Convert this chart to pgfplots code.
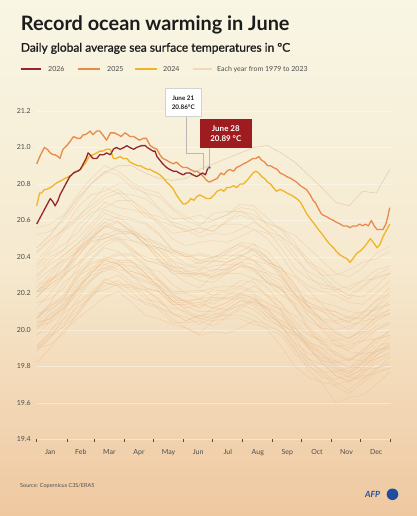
\documentclass[border=0pt]{standalone}
\usepackage{fontspec}
\setmainfont{Lato}
\newfontfamily\subfont{Lato}[FakeBold=1]
\usepackage{pgfplots}
\usepackage{pgfplotstable}
\pgfplotsset{compat=1.18}
\definecolor{bgtop}{HTML}{F8F6E4}
\definecolor{bgmid}{HTML}{F6EAD0}
\definecolor{bgbot}{HTML}{EFC8A0}
\definecolor{c26}{HTML}{93272B}
\definecolor{c26box}{HTML}{9E1B20}
\definecolor{c25}{HTML}{E88A4B}
\definecolor{c24}{HTML}{F0B429}
\definecolor{cbg}{HTML}{E9B98A}
\definecolor{c23}{HTML}{E2CBAE}
\definecolor{cbgleg}{HTML}{F2D9BC}
\definecolor{txt}{HTML}{1C1C1C}
\definecolor{lab}{HTML}{4D4D4D}
\definecolor{afpblue}{HTML}{1F4E9E}

\pgfplotstableread{
year 0 14 28 42 56 70 84 98 112 126 140 154 168 182 196 210 224 238 252 266 280 294 308 322 336 350 364
1979 19.90 19.97 20.02 20.14 20.20 20.22 20.25 20.25 20.19 20.11 20.04 20.04 20.05 20.02 20.07 20.11 20.08 20.02 19.99 19.90 19.78 19.71 19.70 19.72 19.75 19.76 19.79
1980 19.98 20.00 20.06 20.17 20.27 20.34 20.32 20.26 20.23 20.21 20.14 20.09 20.06 20.08 20.11 20.16 20.15 20.07 20.01 19.97 19.90 19.82 19.75 19.72 19.77 19.84 19.88
1981 19.88 19.96 20.06 20.12 20.18 20.24 20.27 20.21 20.14 20.12 20.09 20.07 20.03 20.07 20.08 20.08 20.05 20.03 19.99 19.89 19.82 19.78 19.71 19.67 19.73 19.79 19.81
1982 19.89 19.96 20.02 20.08 20.18 20.26 20.24 20.23 20.22 20.16 20.09 20.05 20.08 20.09 20.08 20.12 20.16 20.12 20.03 19.93 19.87 19.85 19.83 19.80 19.79 19.86 19.93
1983 20.06 20.13 20.17 20.29 20.34 20.36 20.38 20.38 20.31 20.23 20.15 20.15 20.15 20.12 20.15 20.19 20.18 20.09 20.03 19.98 19.91 19.82 19.75 19.71 19.76 19.82 19.86
1984 19.90 19.92 19.98 20.09 20.19 20.26 20.24 20.18 20.15 20.13 20.06 20.01 19.98 20.05 20.06 20.06 20.03 20.01 19.97 19.87 19.80 19.76 19.69 19.65 19.71 19.77 19.79
1985 19.82 19.90 20.00 20.06 20.12 20.18 20.21 20.15 20.08 20.06 20.03 20.01 19.97 19.99 19.98 20.01 20.05 20.00 19.91 19.80 19.74 19.71 19.60 19.63 19.64 19.70 19.77
1986 19.91 19.98 20.04 20.10 20.19 20.28 20.25 20.24 20.22 20.17 20.09 20.05 20.08 20.06 20.11 20.16 20.13 20.07 20.05 19.96 19.84 19.77 19.77 19.79 19.82 19.84 19.87
1987 20.00 20.07 20.12 20.24 20.30 20.32 20.35 20.35 20.29 20.21 20.14 20.14 20.15 20.17 20.18 20.18 20.15 20.13 20.09 19.99 19.92 19.88 19.81 19.77 19.83 19.89 19.91
1988 20.04 20.06 20.11 20.22 20.31 20.38 20.36 20.29 20.26 20.24 20.16 20.11 20.07 20.12 20.11 20.13 20.17 20.11 20.02 19.91 19.84 19.81 19.79 19.74 19.73 19.78 19.85
1989 19.91 19.99 20.09 20.15 20.21 20.27 20.30 20.24 20.17 20.15 20.12 20.10 20.06 20.05 20.10 20.14 20.11 20.05 20.02 19.93 19.81 19.74 19.73 19.75 19.78 19.79 19.82
1990 20.01 20.08 20.13 20.19 20.28 20.36 20.33 20.32 20.30 20.24 20.16 20.12 20.14 20.12 20.15 20.20 20.19 20.11 20.05 20.01 19.94 19.86 19.79 19.76 19.81 19.88 19.92
1991 20.02 20.09 20.14 20.26 20.32 20.34 20.37 20.37 20.31 20.23 20.16 20.16 20.17 20.14 20.19 20.23 20.20 20.14 20.11 20.02 19.90 19.83 19.82 19.84 19.87 19.88 19.91
1992 20.02 20.04 20.10 20.21 20.31 20.38 20.36 20.30 20.27 20.25 20.18 20.13 20.10 20.10 20.13 20.18 20.17 20.09 20.03 19.99 19.92 19.84 19.77 19.74 19.79 19.86 19.90
1993 19.97 20.05 20.15 20.21 20.27 20.33 20.36 20.30 20.23 20.21 20.18 20.16 20.12 20.16 20.17 20.17 20.14 20.12 20.08 19.98 19.91 19.87 19.80 19.76 19.82 19.88 19.90
1994 20.04 20.11 20.16 20.22 20.31 20.39 20.36 20.35 20.33 20.27 20.19 20.15 20.17 20.18 20.17 20.20 20.24 20.19 20.10 19.99 19.93 19.90 19.88 19.84 19.83 19.89 19.96
1995 20.07 20.14 20.19 20.31 20.37 20.39 20.42 20.42 20.36 20.28 20.21 20.21 20.22 20.19 20.22 20.27 20.26 20.18 20.12 20.08 20.01 19.93 19.86 19.83 19.88 19.95 19.99
1996 20.04 20.06 20.12 20.23 20.33 20.40 20.38 20.32 20.29 20.27 20.20 20.15 20.12 20.19 20.20 20.20 20.17 20.15 20.11 20.01 19.94 19.90 19.83 19.79 19.85 19.91 19.93
1997 20.06 20.15 20.26 20.32 20.39 20.46 20.50 20.44 20.38 20.37 20.35 20.33 20.30 20.33 20.33 20.37 20.41 20.37 20.29 20.19 20.13 20.11 20.10 20.07 20.06 20.13 20.21
1998 20.27 20.33 20.38 20.43 20.51 20.59 20.55 20.53 20.50 20.44 20.35 20.30 20.32 20.29 20.33 20.37 20.33 20.26 20.23 20.13 20.00 19.92 19.91 19.92 19.94 19.95 19.97
1999 20.06 20.13 20.18 20.30 20.36 20.38 20.41 20.41 20.35 20.27 20.20 20.20 20.21 20.23 20.24 20.24 20.21 20.19 20.15 20.05 19.98 19.94 19.87 19.83 19.89 19.95 19.97
2000 20.09 20.11 20.17 20.28 20.38 20.45 20.43 20.37 20.34 20.32 20.25 20.20 20.17 20.22 20.21 20.24 20.28 20.23 20.14 20.03 19.97 19.94 19.92 19.88 19.87 19.93 20.00
2001 20.12 20.20 20.30 20.36 20.42 20.48 20.51 20.45 20.38 20.36 20.33 20.31 20.27 20.26 20.31 20.35 20.32 20.26 20.23 20.14 20.02 19.95 19.94 19.96 19.99 20.00 20.03
2002 20.18 20.25 20.30 20.36 20.45 20.53 20.50 20.49 20.47 20.41 20.33 20.29 20.31 20.29 20.32 20.37 20.36 20.28 20.22 20.18 20.11 20.03 19.96 19.93 19.98 20.05 20.09
2003 20.20 20.27 20.32 20.44 20.50 20.52 20.55 20.55 20.49 20.41 20.34 20.34 20.35 20.32 20.37 20.41 20.38 20.32 20.29 20.20 20.08 20.01 20.00 20.02 20.05 20.06 20.09
2004 20.21 20.23 20.29 20.40 20.50 20.57 20.55 20.49 20.46 20.44 20.37 20.32 20.29 20.31 20.34 20.39 20.38 20.30 20.24 20.20 20.13 20.05 19.98 19.95 20.00 20.07 20.11
2005 20.21 20.29 20.39 20.45 20.51 20.57 20.60 20.54 20.47 20.45 20.42 20.40 20.36 20.40 20.41 20.41 20.38 20.36 20.32 20.22 20.15 20.11 20.04 20.00 20.06 20.12 20.14
2006 20.21 20.28 20.33 20.40 20.49 20.57 20.54 20.54 20.52 20.46 20.38 20.35 20.37 20.38 20.37 20.40 20.45 20.40 20.31 20.20 20.15 20.12 20.10 20.06 20.06 20.12 20.19
2007 20.20 20.27 20.31 20.43 20.49 20.50 20.53 20.53 20.47 20.38 20.31 20.31 20.31 20.28 20.31 20.35 20.34 20.26 20.19 20.15 20.08 20.00 19.92 19.89 19.94 20.00 20.04
2008 20.15 20.17 20.23 20.34 20.44 20.51 20.49 20.43 20.40 20.38 20.31 20.26 20.23 20.30 20.31 20.31 20.28 20.26 20.22 20.12 20.05 20.01 19.94 19.90 19.96 20.02 20.04
2009 20.18 20.26 20.37 20.43 20.50 20.56 20.59 20.54 20.47 20.45 20.43 20.41 20.38 20.40 20.39 20.43 20.47 20.43 20.34 20.23 20.18 20.15 20.13 20.10 20.09 20.16 20.23
2010 20.33 20.40 20.44 20.50 20.58 20.66 20.63 20.61 20.59 20.53 20.44 20.40 20.41 20.39 20.44 20.47 20.44 20.37 20.34 20.25 20.12 20.05 20.04 20.05 20.08 20.08 20.11
2011 20.18 20.25 20.30 20.42 20.48 20.50 20.53 20.53 20.47 20.39 20.32 20.32 20.33 20.35 20.36 20.36 20.33 20.31 20.27 20.17 20.10 20.06 19.99 19.95 20.01 20.07 20.09
2012 20.25 20.27 20.33 20.44 20.54 20.61 20.59 20.53 20.50 20.48 20.41 20.36 20.33 20.38 20.37 20.40 20.44 20.39 20.30 20.19 20.13 20.10 20.08 20.04 20.03 20.09 20.16
2013 20.23 20.31 20.41 20.47 20.53 20.59 20.62 20.56 20.49 20.47 20.44 20.42 20.38 20.37 20.42 20.46 20.43 20.37 20.34 20.25 20.13 20.06 20.05 20.07 20.10 20.11 20.14
2014 20.29 20.36 20.41 20.47 20.56 20.64 20.61 20.60 20.58 20.52 20.44 20.40 20.42 20.40 20.43 20.48 20.47 20.39 20.33 20.29 20.22 20.14 20.07 20.04 20.09 20.16 20.20
2015 20.30 20.38 20.44 20.57 20.64 20.67 20.71 20.71 20.66 20.59 20.53 20.54 20.56 20.54 20.60 20.65 20.63 20.58 20.56 20.48 20.36 20.30 20.30 20.33 20.37 20.39 20.43
2016 20.56 20.58 20.63 20.74 20.83 20.90 20.87 20.81 20.77 20.75 20.67 20.62 20.58 20.60 20.63 20.67 20.66 20.57 20.51 20.46 20.39 20.30 20.23 20.19 20.24 20.30 20.34
2017 20.38 20.46 20.56 20.62 20.68 20.74 20.77 20.71 20.64 20.62 20.59 20.57 20.53 20.57 20.58 20.58 20.55 20.53 20.49 20.39 20.32 20.28 20.21 20.17 20.23 20.29 20.31
2018 20.35 20.42 20.47 20.53 20.62 20.70 20.67 20.66 20.64 20.58 20.50 20.46 20.48 20.49 20.48 20.51 20.55 20.50 20.41 20.30 20.24 20.21 20.19 20.15 20.14 20.20 20.27
2019 20.42 20.49 20.55 20.67 20.74 20.76 20.80 20.80 20.75 20.67 20.61 20.61 20.63 20.60 20.63 20.69 20.68 20.61 20.55 20.52 20.45 20.38 20.31 20.29 20.34 20.42 20.46
2020 20.52 20.54 20.60 20.70 20.80 20.87 20.85 20.78 20.75 20.73 20.66 20.60 20.57 20.64 20.65 20.65 20.61 20.59 20.55 20.45 20.37 20.33 20.26 20.22 20.27 20.33 20.35
2021 20.36 20.44 20.54 20.60 20.66 20.72 20.75 20.69 20.62 20.60 20.57 20.55 20.51 20.53 20.52 20.55 20.59 20.54 20.45 20.34 20.28 20.25 20.23 20.19 20.18 20.24 20.31
2022 20.43 20.50 20.55 20.61 20.70 20.78 20.75 20.74 20.72 20.66 20.58 20.54 20.56 20.54 20.59 20.63 20.60 20.54 20.51 20.42 20.30 20.23 20.22 20.24 20.27 20.28 20.31
2023 20.45 20.52 20.62 20.72 20.80 20.86 20.90 20.90 20.86 20.83 20.82 20.83 20.88 20.91 20.94 20.97 21.00 21.01 20.97 20.92 20.85 20.78 20.70 20.68 20.76 20.75 20.88
}\bgT
\pgfplotstabletranspose[colnames from=year, input colnames to=day]{\bg}{\bgT}

\begin{document}
\begin{tikzpicture}[x=1pt,y=1pt]
\begin{scope}[shift={(-36.7,-76.7)}]
\shade[top color=bgtop, bottom color=bgbot, middle color=bgmid] (0,0) rectangle (417,516);

\node[anchor=base west, inner sep=0, text=txt, font=\fontsize{19.9}{23}\selectfont\bfseries] at (20.7,485) {Record ocean warming in June};
\node[anchor=base west, inner sep=0, text=txt, font=\subfont\fontsize{12}{14}\selectfont] at (20.7,464.3) {Daily global average sea surface temperatures in ºC};

\draw[c26, line width=1.2] (20.7,447) -- (40.7,447);
\node[anchor=base west, inner sep=0, text=lab, font=\fontsize{7}{8}\selectfont] at (48,444.5) {2026};
\draw[c25, line width=1.2] (78,447) -- (100,447);
\node[anchor=base west, inner sep=0, text=lab, font=\fontsize{7}{8}\selectfont] at (107,444.5) {2025};
\draw[c24, line width=1.2] (135,447) -- (157,447);
\node[anchor=base west, inner sep=0, text=lab, font=\fontsize{7}{8}\selectfont] at (163,444.5) {2024};
\draw[cbgleg, line width=1.2] (192.7,447) -- (211.7,447);
\node[anchor=base west, inner sep=0, text=lab, font=\fontsize{7}{8}\selectfont] at (217,444.5) {Each year from 1979 to 2023};

\node[anchor=base west, inner sep=0, font=\fontsize{5.5}{6}\selectfont, text=lab] at (20,29) {Source: Copernicus C3S/ERA5};
\node[anchor=base west, inner sep=0, font=\fontsize{8.5}{10}\selectfont\bfseries\itshape, text=afpblue] at (365,18.5) {AFP};
\fill[afpblue] (392.5,21.7) circle (5.8);
\end{scope}

\begin{axis}[
  anchor=south west,
  scale only axis, width=354pt, height=328.3pt,
  xmin=0, xmax=365, ymin=19.4, ymax=21.2,
  clip=false,
  axis line style={draw=none},
  tick align=outside,
  tick pos=left,
  major tick length=0pt,
  minor tick length=3pt,
  xtick={14,45.5,75,105.5,136,166.5,197,228,258.5,289,319.5,350},
  xticklabels={Jan,Feb,Mar,Apr,May,Jun,Jul,Aug,Sep,Oct,Nov,Dec},
  minor xtick={0,31,59,90,120,151,181,212,243,273,304,334,365},
  minor x tick style={draw=lab, line width=0.5pt},
  ytick={19.4,19.6,19.8,20.0,20.2,20.4,20.6,20.8,21.0,21.2},
  ymajorgrids,
  major grid style={white, line width=0.6pt, opacity=0.4},
  tick label style={font=\fontsize{7}{8}\selectfont, text=lab},
  xticklabel style={yshift=-6.5pt},
  yticklabel style={xshift=-2.4pt, /pgf/number format/.cd, fixed, fixed zerofill, precision=1, assume math mode=true},
  bgl/.style={cbg, line width=0.4pt, opacity=0.5},
]
\pgfplotsinvokeforeach{1979,...,2022}{\addplot[bgl] table[x=day, y=#1] {\bg};}
\addplot[c23, line width=0.5pt] table[x=day, y=2023] {\bg};

\addplot[c24, line width=1.3pt, line join=round] coordinates {(0,20.68)(3,20.75)(5,20.75)(8,20.77)(10,20.77)(14,20.78)(17,20.79)(19,20.80)(22,20.81)(26,20.82)(29,20.83)(33,20.84)(36,20.85)(40,20.87)(43,20.87)(45,20.88)(48,20.90)(51,20.92)(54,20.95)(58,20.96)(62,20.97)(65,20.98)(68,20.98)(72,20.99)(76,20.99)(79,20.94)(82,20.94)(86,20.95)(89,20.94)(93,20.94)(96,20.92)(100,20.91)(104,20.90)(107,20.90)(110,20.89)(114,20.88)(117,20.88)(120,20.87)(124,20.86)(127,20.85)(131,20.83)(134,20.81)(138,20.79)(141,20.77)(144,20.74)(148,20.71)(151,20.69)(153,20.69)(156,20.70)(159,20.72)(162,20.71)(165,20.73)(168,20.74)(172,20.73)(175,20.72)(179,20.72)(183,20.74)(186,20.76)(190,20.77)(193,20.76)(196,20.78)(199,20.78)(203,20.79)(206,20.78)(210,20.80)(213,20.80)(217,20.82)(220,20.84)(223,20.86)(226,20.87)(229,20.86)(232,20.84)(235,20.83)(238,20.81)(241,20.80)(244,20.78)(247,20.76)(251,20.77)(255,20.76)(258,20.75)(262,20.74)(265,20.73)(268,20.72)(272,20.70)(275,20.67)(278,20.64)(282,20.61)(285,20.59)(289,20.56)(292,20.54)(295,20.52)(299,20.49)(302,20.47)(306,20.45)(309,20.43)(313,20.41)(316,20.40)(320,20.39)(323,20.37)(326,20.39)(330,20.42)(333,20.43)(337,20.45)(340,20.47)(344,20.50)(347,20.48)(351,20.45)(354,20.47)(357,20.51)(361,20.55)(364,20.58)};

\addplot[c25, line width=1.3pt, line join=round] coordinates {(0,20.91)(4,20.96)(8,21.00)(11,20.99)(14,20.97)(17,20.96)(19,20.96)(22,20.95)(24,20.94)(27,20.99)(31,21.01)(34,21.03)(38,21.06)(42,21.05)(45,21.05)(48,21.07)(50,21.07)(53,21.08)(55,21.09)(58,21.07)(62,21.09)(65,21.09)(68,21.07)(72,21.04)(74,21.06)(76,21.08)(80,21.08)(84,21.07)(87,21.06)(91,21.08)(94,21.07)(96,21.06)(100,21.06)(103,21.05)(106,21.04)(110,21.05)(113,21.05)(115,21.03)(117,21.01)(120,21.00)(124,20.99)(127,20.96)(130,20.94)(134,20.93)(137,20.92)(141,20.91)(144,20.92)(148,20.90)(151,20.89)(155,20.89)(158,20.88)(162,20.87)(165,20.87)(168,20.86)(172,20.84)(175,20.82)(178,20.81)(182,20.82)(186,20.83)(190,20.86)(193,20.85)(196,20.87)(199,20.88)(203,20.87)(206,20.89)(210,20.90)(213,20.91)(217,20.92)(220,20.93)(223,20.94)(226,20.94)(229,20.95)(232,20.93)(235,20.92)(238,20.90)(241,20.90)(244,20.89)(248,20.88)(251,20.86)(255,20.85)(258,20.84)(262,20.83)(265,20.82)(268,20.81)(272,20.79)(275,20.78)(278,20.77)(282,20.74)(285,20.71)(287,20.70)(290,20.67)(293,20.64)(295,20.63)(299,20.62)(302,20.61)(306,20.60)(309,20.59)(313,20.58)(316,20.57)(320,20.57)(323,20.56)(326,20.57)(330,20.57)(333,20.58)(336,20.57)(339,20.58)(342,20.57)(345,20.60)(348,20.57)(351,20.55)(354,20.55)(357,20.55)(360,20.58)(362,20.62)(364,20.67)};

\draw[gray!55, line width=0.45pt] (axis cs:154.6,21.169) |- (axis cs:171.4,20.968) -- (axis cs:171.4,20.875);
\draw[gray!55, line width=0.45pt] (axis cs:177.9,20.995) -- (axis cs:177.9,20.90);

\addplot[c26, line width=1.3pt, line join=round] coordinates {(0,20.58)(3,20.61)(5,20.63)(7,20.65)(10,20.68)(12,20.70)(14,20.72)(17,20.70)(19,20.68)(22,20.71)(24,20.74)(27,20.77)(31,20.81)(34,20.84)(38,20.86)(42,20.87)(45,20.88)(48,20.91)(51,20.94)(53,20.97)(55,20.96)(58,20.94)(62,20.94)(65,20.96)(69,20.96)(72,20.97)(76,20.96)(79,20.99)(82,21.00)(86,20.99)(90,21.00)(93,21.01)(96,21.00)(100,20.99)(103,21.00)(108,21.01)(112,21.01)(114,21.00)(117,20.99)(120,20.98)(122,20.98)(124,20.95)(127,20.93)(130,20.91)(134,20.89)(137,20.88)(141,20.87)(144,20.87)(147,20.86)(151,20.85)(154,20.86)(158,20.86)(161,20.85)(165,20.84)(168,20.85)(171,20.86)(174,20.85)(176,20.88)(178,20.89)};
\addplot[only marks, mark=*, mark size=1.6pt, mark options={fill=c26, draw=gray!50, line width=0.5pt}] coordinates {(178,20.89)};

\node[fill=white, draw=gray!35, line width=0.4pt, minimum width=36.7pt, minimum height=28.4pt, align=center, inner sep=0, font=\fontsize{6.3}{9}\selectfont\bfseries, text=txt] at (axis cs:151.1,21.247) {June 21\\20.86°C};
\node[fill=c26box, minimum width=51.7pt, minimum height=29pt, align=center, inner sep=0, font=\fontsize{8}{10}\selectfont\bfseries, text=white] at (axis cs:195,21.075) {June 28\\20.89 °C};
\end{axis}

\pgfresetboundingbox
\path[use as bounding box] (-36.7,-76.7) rectangle (380.3,439.3);
\end{tikzpicture}
\end{document}
